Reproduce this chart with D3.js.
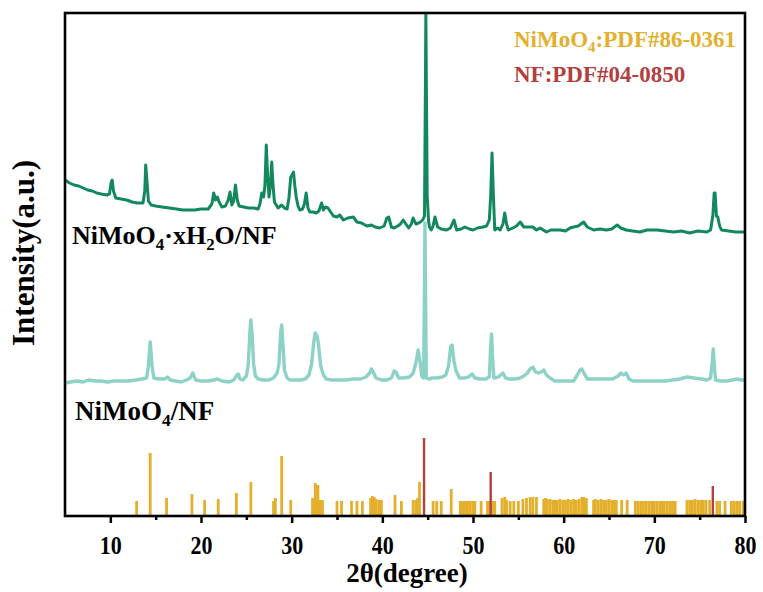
<!DOCTYPE html>
<html>
<head>
<meta charset="utf-8">
<script src="https://cdn.jsdelivr.net/npm/d3@7"></script>
<style>
  html, body { margin: 0; padding: 0; background: #fff; }
  svg { display: block; }
  text { font-family: "Liberation Serif", "Times New Roman", serif; font-weight: bold; }
</style>
</head>
<body>
<svg id="chart" width="763" height="592"></svg>
<script>
// ---- data -------------------------------------------------------------
// 2θ (degree) and intensity (a.u., stacked with offsets)
const hydrateSeries = [
  [5.0,336],[5.5,333],[6.0,331],[6.5,330],[7.0,328],[7.5,326],[8.0,325],[8.5,323],[9.0,322],[9.6,321],
  [9.9,322],[10.1,334],[10.2,336],[10.35,325],[10.6,318],[11.2,317],[11.8,316],[12.4,314],[13.0,313],
  [13.6,313],[13.8,325],[13.9,351],[14.0,340],[14.2,315],[14.5,311],[15.0,310],[15.7,309],[16.5,308],
  [17.3,307],[18.0,306],[18.6,306],[19.3,306],[20.0,307],[20.8,307],[21.2,312],[21.4,323],[21.6,316],
  [21.8,319],[22.0,314],[22.3,309],[22.7,310],[23.0,316],[23.2,324],[23.4,311],[23.6,315],[23.8,331],
  [24.0,316],[24.2,310],[24.7,309],[25.2,308],[25.8,308],[26.3,307],[26.5,312],[26.7,323],[26.9,319],
  [27.05,330],[27.2,371],[27.35,340],[27.5,319],[27.65,330],[27.8,354],[27.95,330],[28.1,314],[28.5,308],
  [28.9,311],[29.2,308],[29.5,307],[29.7,318],[29.9,339],[30.1,342],[30.2,344],[30.35,330],[30.5,319],
  [30.7,310],[30.9,306],[31.2,307],[31.4,312],[31.6,323],[31.8,308],[32.0,304],[32.4,304],[32.7,303],
  [33.0,305],[33.3,313],[33.5,306],[33.7,309],[34.0,308],[34.3,304],[34.6,300],[35.0,299],[35.3,301],
  [35.7,296],[36.2,298],[36.8,299],[37.2,294],[37.7,293],[38.3,290],[38.8,291],[39.2,289],[39.7,288],
  [40.2,290],[40.5,298],[40.7,299],[41.0,289],[41.3,288],[41.7,290],[42.0,292],[42.3,296],[42.6,292],
  [42.9,288],[43.2,292],[43.4,298],[43.7,292],[44.0,293],[44.2,294],[44.45,296],[44.65,300],[44.75,430],
  [44.8,503],[44.85,440],[44.95,320],[45.1,295],[45.2,289],[45.4,286],[45.6,290],[45.8,299],[46.1,289],
  [46.5,287],[47.1,286],[47.5,288],[47.9,296],[48.2,286],[48.7,287],[49.1,289],[49.6,287],[50.0,286],
  [50.5,288],[51.1,289],[51.5,290],[51.8,296],[51.95,320],[52.1,363],[52.25,320],[52.4,286],[52.7,288],
  [53.0,286],[53.3,292],[53.5,303],[53.7,292],[53.9,286],[54.4,288],[54.8,290],[55.2,294],[55.6,289],
  [56.1,289],[56.6,289],[57.0,286],[57.4,288],[58.1,284],[58.6,286],[59.2,286],[59.6,286],[60.2,285],
  [60.7,288],[61.1,289],[61.6,290],[62.2,294],[62.6,289],[63.3,286],[64.0,287],[64.7,286],[65.3,287],
  [65.9,291],[66.3,288],[66.9,286],[67.6,285],[68.4,284],[69.2,286],[70.3,286],[71.2,285],[72.1,284],
  [73.0,285],[73.9,283],[74.8,285],[75.8,284],[76.2,286],[76.45,300],[76.6,323],[76.7,323],[76.85,300],
  [77.0,299],[77.2,290],[77.4,286],[78.2,285],[79.0,284],[79.4,284],[80.0,284]
];

const anhydrousSeries = [
  [5.0,133],[5.6,134],[6.3,135],[7.0,134],[7.6,136],[8.3,135],[9.0,135],[9.7,134],[10.4,135],[11.2,135],
  [12.0,135],[12.8,136],[13.5,137],[14.0,138],[14.2,150],[14.4,174],[14.6,150],[14.8,138],[15.4,137],
  [16.0,137],[16.3,139],[16.6,136],[17.2,135],[17.8,134],[18.4,136],[18.8,138],[19.1,143],[19.4,136],
  [20.0,135],[20.8,135],[21.4,136],[21.8,137],[22.3,135],[23.1,134],[23.6,136],[23.9,140],[24.1,142],
  [24.3,137],[24.6,136],[25.0,140],[25.2,150],[25.4,185],[25.5,196],[25.65,180],[25.8,152],[26.0,140],
  [26.3,137],[26.9,136],[27.5,136],[28.0,138],[28.4,143],[28.6,152],[28.8,185],[28.9,191],[29.05,170],
  [29.2,146],[29.5,138],[29.8,136],[30.4,136],[31.0,136],[31.5,137],[31.9,141],[32.2,152],[32.45,175],
  [32.6,183],[32.8,180],[32.95,172],[33.2,150],[33.5,141],[33.8,137],[34.5,136],[35.2,136],[36.0,136],
  [36.8,137],[37.6,137],[38.2,139],[38.6,143],[38.8,147],[39.0,144],[39.3,138],[39.9,136],[40.5,136],
  [41.0,138],[41.3,145],[41.5,144],[41.8,138],[42.3,138],[43.0,139],[43.4,143],[43.7,153],[43.95,166],
  [44.15,155],[44.35,140],[44.55,138],[44.65,230],[44.7,293],[44.75,240],[44.85,138],[45.1,137],
  [45.5,138],[46.0,138],[46.6,139],[47.0,141],[47.3,150],[47.55,170],[47.7,171],[47.9,155],[48.1,146],
  [48.5,138],[49.0,138],[49.5,139],[49.9,142],[50.2,138],[50.8,137],[51.4,137],[51.8,139],[51.95,170],
  [52.05,182],[52.15,160],[52.3,138],[52.8,139],[53.3,143],[53.6,138],[54.0,137],[54.6,137],[55.2,138],
  [55.6,140],[56.0,143],[56.3,147],[56.6,149],[56.9,144],[57.2,143],[57.5,144],[57.8,146],[58.1,141],
  [58.5,138],[59.0,135],[59.7,135],[60.4,135],[61.1,135],[61.5,141],[61.8,146],[62.0,147],[62.3,142],
  [62.6,137],[63.3,137],[64.0,137],[64.7,137],[65.4,137],[66.0,140],[66.3,143],[66.6,141],[66.9,143],
  [67.2,137],[67.6,135],[68.5,135],[69.4,135],[70.3,135],[71.2,135],[72.0,136],[72.8,137],[73.6,139],
  [74.4,138],[75.2,137],[75.8,136],[76.2,138],[76.4,155],[76.5,167],[76.6,152],[76.75,136],[77.3,135],
  [78.0,135],[78.6,136],[79.1,137],[79.6,136],[80.0,136]
];

// Reference card NiMoO4 PDF#86-0361: [2θ, relative intensity]
const pdfNiMoO4 = [
  [12.9,15],[14.4,63],[16.2,18],[19.0,22],[20.4,16],[21.9,17],[23.9,23],[25.5,34],[28.0,15],[28.2,18],
  [28.9,60],[29.9,16],[32.3,18],[32.6,33],[32.8,31],[32.9,31],[33.1,16],[33.4,16],[35.0,15],[35.5,15],
  [36.6,15],[37.2,15],[37.8,15],[38.7,18],[38.9,20],[39.1,19],[39.3,17],[39.6,16],[39.9,16],[41.4,21],
  [42.1,15],[43.4,16],[43.7,16],[43.9,18],[44.1,34],[45.6,15],[46.0,15],[46.5,15],[47.6,27],
  [48.6,15],[48.8,15],[49.0,15],[49.2,15],[49.4,15],[49.7,15],[50.0,15],[50.2,15],[50.9,15],
  [51.6,15],[51.8,15],[52.2,15],[52.4,15],[53.2,18],[53.5,19],[53.7,16],[54.1,15],[54.5,15],[55.0,15],
  [55.5,17],[55.9,18],[56.3,19],[56.6,19],[57.0,19],[57.8,17],[58.0,18],[58.2,17],[58.5,17],[58.8,16],
  [59.0,16],[59.3,16],[59.6,17],[59.9,16],[60.2,16],[60.5,17],[60.8,16],[61.1,17],[61.4,16],[61.7,17],
  [62.0,19],[62.2,19],[62.5,18],[63.3,16],[63.5,17],[63.8,16],[64.1,17],[64.4,16],[64.7,16],[65.0,17],
  [65.3,16],[65.6,16],[65.8,16],[66.4,16],[67.0,16],[67.9,15],[68.2,15],[68.5,15],[68.8,15],[69.1,15],
  [69.4,15],[69.7,15],[70.0,15],[70.3,15],[70.6,15],[70.8,15],[71.1,15],[71.4,15],[71.7,15],[72.0,15],
  [72.3,15],[73.6,16],[73.9,16],[74.2,16],[74.5,17],[74.8,16],[75.1,16],[75.4,16],[75.7,16],[76.1,16],
  [76.9,15],[77.2,15],[77.8,15],[78.5,15],[78.8,15],[79.1,15],[79.4,15],[79.8,15]
];

// Reference card Ni (NF) PDF#04-0850
const pdfNi = [[44.6,78],[51.95,44],[76.45,30]];

const xTicks = [10, 20, 30, 40, 50, 60, 70, 80];
const xMinorTicks = [15, 25, 35, 45, 55, 65, 75];

// ---- layout -----------------------------------------------------------
const margin = { left: 65, right: 18, top: 13, bottom: 76 };
const W = 763, H = 592;
const plotW = W - margin.left - margin.right;   // 680
const plotH = H - margin.top - margin.bottom;   // 503

const svg = d3.select("#chart");
const g = svg.append("g").attr("transform", `translate(${margin.left},${margin.top})`);

const x = d3.scaleLinear().domain([5, 80]).range([0, plotW]);
const y = d3.scaleLinear().domain([0, 503]).range([plotH, 0]);

const colors = {
  hydrate: "#13885D",
  anhydrous: "#8DD2C7",
  pdfMo: "#E4B02C",
  pdfNi: "#B3403E"
};

g.append("clipPath").attr("id", "plotClip")
  .append("rect").attr("x", 0).attr("y", 0).attr("width", plotW).attr("height", plotH);

const plot = g.append("g").attr("clip-path", "url(#plotClip)");

// reference sticks
plot.append("g").selectAll("line").data(pdfNiMoO4).join("line")
  .attr("x1", d => x(d[0])).attr("x2", d => x(d[0]))
  .attr("y1", y(0)).attr("y2", d => y(d[1]))
  .attr("stroke", colors.pdfMo).attr("stroke-width", 2.8);

plot.append("g").selectAll("line").data(pdfNi).join("line")
  .attr("x1", d => x(d[0])).attr("x2", d => x(d[0]))
  .attr("y1", y(0)).attr("y2", d => y(d[1]))
  .attr("stroke", colors.pdfNi).attr("stroke-width", 2.4);

const line = d3.line().x(d => x(d[0])).y(d => y(d[1]));

plot.append("path").datum(anhydrousSeries)
  .attr("d", line).attr("fill", "none")
  .attr("stroke", colors.anhydrous).attr("stroke-width", 3.4).attr("stroke-linejoin", "round");

plot.append("path").datum(hydrateSeries)
  .attr("d", line).attr("fill", "none")
  .attr("stroke", colors.hydrate).attr("stroke-width", 3).attr("stroke-linejoin", "round");

// ---- axes -------------------------------------------------------------
const xAxis = g.append("g").attr("transform", `translate(0,${plotH})`)
  .call(d3.axisBottom(x).tickValues(xTicks).tickSize(7).tickFormat(d3.format("d")));
xAxis.select(".domain").remove();
xAxis.selectAll(".tick line").attr("stroke", "#000").attr("stroke-width", 2.5);
xAxis.selectAll(".tick text")
  .attr("y", 0).attr("dy", 0)
  .attr("transform", "translate(0,38) scale(1,1.12)")
  .attr("fill", "#000").style("font-size", "22px")
  .style("font-family", "'Liberation Serif','Times New Roman',serif").style("font-weight", "bold");

const xMinor = g.append("g").attr("transform", `translate(0,${plotH})`)
  .call(d3.axisBottom(x).tickValues(xMinorTicks).tickSize(4).tickFormat(""));
xMinor.select(".domain").remove();
xMinor.selectAll(".tick line").attr("stroke", "#000").attr("stroke-width", 2.5);

// frame
g.append("rect").attr("x", 0).attr("y", 0).attr("width", plotW).attr("height", plotH)
  .attr("fill", "none").attr("stroke", "#000").attr("stroke-width", 2.6);

// axis titles
svg.append("text").attr("x", margin.left + plotW / 2 + 2).attr("y", 582)
  .attr("text-anchor", "middle").style("font-size", "27px").text("2θ(degree)");

svg.append("text").attr("transform", `translate(34,253) rotate(-90)`)
  .attr("text-anchor", "middle").style("font-size", "31px").text("Intensity(a.u.)");

// series labels with subscripts
function formula(sel, parts, size) {
  parts.forEach(p => {
    if (p.sub) {
      sel.append("tspan").text(p.t).style("font-size", (size * 0.65) + "px").attr("dy", size * 0.22);
    } else {
      sel.append("tspan").text(p.t).attr("dy", p.after ? -size * 0.22 : 0);
    }
  });
}

const lab1 = svg.append("text").attr("x", 72).attr("y", 244).style("font-size", "26px").attr("fill", "#000");
formula(lab1, [{t: "NiMoO"}, {t: "4", sub: true}, {t: "·xH", after: true}, {t: "2", sub: true}, {t: "O/NF", after: true}], 26);

const lab2 = svg.append("text").attr("x", 75).attr("y", 420).style("font-size", "27px").attr("fill", "#000");
formula(lab2, [{t: "NiMoO"}, {t: "4", sub: true}, {t: "/NF", after: true}], 27);

// legend
const leg1 = svg.append("text").attr("x", 514).attr("y", 47).style("font-size", "23px").attr("fill", colors.pdfMo);
formula(leg1, [{t: "NiMoO"}, {t: "4", sub: true}, {t: ":PDF#86-0361", after: true}], 23);

svg.append("text").attr("x", 514).attr("y", 82).style("font-size", "23px").attr("fill", colors.pdfNi)
  .text("NF:PDF#04-0850");
</script>
</body>
</html>
